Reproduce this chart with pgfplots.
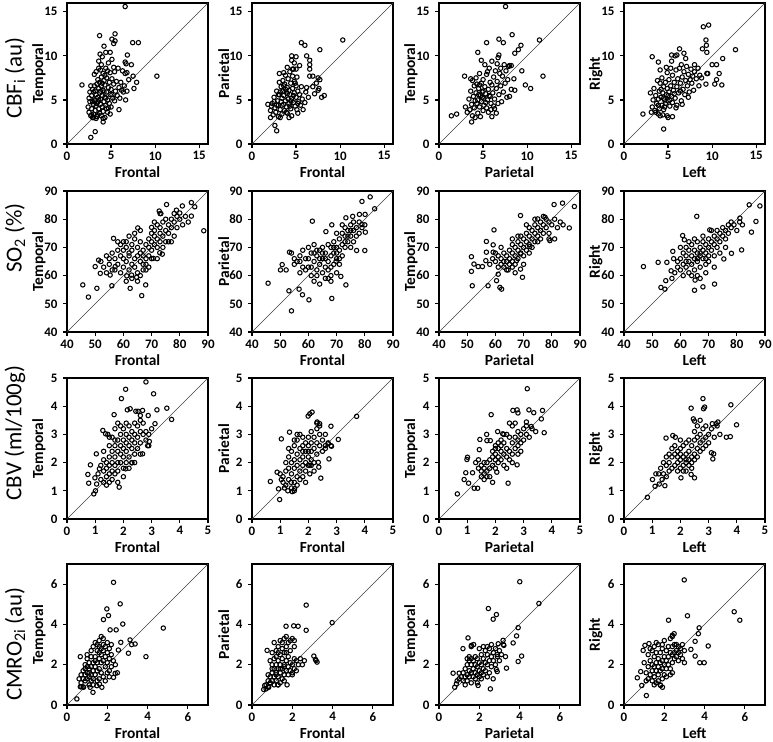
\documentclass[border=0pt]{standalone}
\usepackage{pgfplots}
\pgfplotsset{compat=1.18}
\usepackage{fontspec}
\setmainfont{Carlito}
\pgfplotsset{
 panel/.style={scale only axis, width=141bp, height=141bp, anchor=north west,
  axis line style={line width=1.7bp, black}, tick align=outside, tick pos=left,
  major tick length=4bp, tick style={line width=1.2bp, black},
  ticklabel style={font=\fontsize{13}{13}\selectfont\bfseries},
  label style={font=\fontsize{15.5}{15.5}\selectfont\bfseries},
  /pgf/number format/assume math mode=true,
  yticklabel style={xshift=-2bp},
  ylabel style={at={(axis description cs:-0.2,0.5)}, anchor=center},
  xlabel style={at={(axis description cs:0.5,-0.2)}, anchor=center}},
 pts/.style={only marks, mark=o, mark size=2.2bp, mark options={line width=1.05bp, black}},
 diag/.style={no marks, black!75, line width=0.6bp},
 r1/.style={xmin=0,xmax=16,ymin=0,ymax=16,xtick={0,5,10,15},ytick={0,5,10,15}},
 r2/.style={xmin=40,xmax=90,ymin=40,ymax=90,xtick={40,50,...,90},ytick={40,50,...,90}},
 r3/.style={xmin=0,xmax=5,ymin=0,ymax=5,xtick={0,...,5},ytick={0,...,5}},
 r4/.style={xmin=0,xmax=7,ymin=0,ymax=7,xtick={0,2,4,6},ytick={0,2,4,6}},
}
\begin{document}
\begin{tikzpicture}
\useasboundingbox (0,0) rectangle (773bp,-742bp);
\begin{scope}[font=\fontsize{23}{23}\selectfont]
\node[rotate=90] at (15bp,-78bp) {CBF\textsubscript{i} (au)};
\node[rotate=90] at (15bp,-238bp) {SO\textsubscript{2} (\%)};
\node[rotate=90] at (15bp,-433bp) {CBV (ml/100g)};
\node[rotate=90] at (15bp,-644bp) {CMRO\textsubscript{2i} (au)};
\end{scope}
% ---------------- Row 1: CBF
\begin{axis}[panel, r1, at={(67bp,-3bp)}, xlabel=Frontal, ylabel=Temporal]
\addplot[diag] coordinates {(0,0) (16,16)};
\addplot[pts] coordinates {(6.6,15.6) (3.7,12.3) (5.45,12.5) (5.45,11.7) (5.3,11.4) (5.1,11.9) (7.45,11.5) (8.1,11.5) (10.2,7.7) (6.85,10.1) (4.2,11.1) (4.4,10.4) (3.75,10.2) (4.9,10.4) (7.3,9.0) (6.7,9.1) (6.6,9.3) (7.9,7.0) (7.6,6.3) (7.5,7.7) (1.7,6.7) (3.2,1.4) (2.7,0.75) (6.65,5.0) (5.9,3.9) (4.1,2.5)
(2.4,4.2) (2.5,3.6) (2.6,4.8) (2.7,3.2) (2.8,5.5) (2.8,4.0) (2.9,3.0) (2.9,6.2) (3.0,4.5) (3.0,3.4) (3.1,5.0) (3.1,7.9) (3.2,3.8) (3.2,6.0) (3.3,4.3) (3.3,5.6) (3.3,8.2) (3.4,3.1) (3.4,6.8) (3.5,4.8) (3.5,5.3) (3.5,7.3) (3.6,4.0) (3.6,6.3) (3.6,9.4) (3.7,3.5) (3.7,5.8) (3.7,7.0) (3.8,4.5) (3.8,8.4) (3.8,5.1) (3.9,6.6) (3.9,3.2) (3.9,7.6) (4.0,4.2) (4.0,5.5) (4.0,9.9) (4.1,6.1) (4.1,3.7) (4.1,8.0) (4.2,4.8) (4.2,7.2) (4.3,5.3) (4.3,3.0) (4.3,6.7) (4.4,4.4) (4.4,8.6) (4.5,5.9) (4.5,7.5) (4.6,3.6) (4.6,5.0) (4.7,6.4) (4.7,9.2) (4.8,4.6) (4.8,7.0) (4.9,5.6) (4.9,8.1) (5.0,6.2) (5.0,4.2) (5.1,7.4) (5.1,9.6) (5.2,5.2) (5.3,6.8) (5.3,8.7) (5.4,4.9) (5.5,6.0) (5.6,7.1) (5.7,5.5) (5.8,8.6) (5.9,6.4) (6.0,5.2) (6.1,7.0) (6.2,6.1) (6.3,8.3) (6.4,5.9) (6.5,6.6) (6.6,8.0) (6.8,6.0) (6.8,8.1) (7.0,7.3) (3.0,5.9) (3.4,4.6) (3.6,5.0) (4.0,6.9) (4.2,5.9) (4.5,4.0) (2.6,5.9) (2.9,4.8) (3.2,4.9) (3.5,3.3) (3.8,6.0) (4.4,5.2) (4.7,4.1) (5.1,5.6) (3.1,6.6) (2.7,6.6) (2.5,5.2) (4.9,3.4) (4.1,2.9) (3.3,2.9) (3.0,3.0) (2.8,3.3) (4.6,8.3) (3.9,9.0) (5.4,8.2) (4.3,7.8) (3.6,8.6)};
\end{axis}
\begin{axis}[panel, r1, at={(252bp,-3bp)}, xlabel=Frontal, ylabel=Parietal]
\addplot[diag] coordinates {(0,0) (16,16)};
\addplot[pts] coordinates {(10.3,11.8) (5.6,11.5) (6.0,11.2) (7.7,10.7) (6.2,10.0) (6.55,9.5) (6.55,9.0) (6.55,8.5) (6.55,7.7) (6.9,7.7) (7.5,7.5) (7.7,7.3) (7.3,6.9) (6.9,6.5) (6.2,6.4) (6.1,5.9) (6.4,5.3) (7.1,5.7) (7.5,6.1) (7.9,5.3) (8.2,5.5) (7.6,6.3) (5.2,3.5) (2.6,2.1) (2.8,1.5) (1.8,4.5) (2.1,3.0) (3.1,8.0) (4.5,10.0) (5.0,9.9) (4.8,9.2) (4.5,9.5) (5.4,8.9) (4.7,8.5) (5.0,8.5) (5.1,7.6)
(2.1,3.8) (2.3,4.6) (2.4,3.3) (2.5,5.3) (2.6,4.1) (2.7,3.6) (2.8,6.0) (2.9,4.9) (3.0,3.1) (3.0,4.4) (3.1,5.6) (3.1,7.0) (3.2,3.9) (3.3,6.5) (3.3,4.8) (3.4,5.2) (3.4,3.4) (3.5,7.2) (3.5,6.0) (3.6,4.5) (3.6,5.5) (3.7,3.8) (3.7,6.8) (3.8,4.9) (3.8,7.8) (3.9,5.9) (3.9,4.2) (4.0,6.4) (4.0,3.5) (4.1,5.1) (4.1,7.4) (4.2,4.6) (4.2,6.1) (4.3,5.6) (4.3,8.2) (4.4,4.0) (4.4,6.9) (4.5,5.2) (4.5,3.2) (4.6,6.3) (4.6,7.7) (4.7,4.7) (4.8,5.8) (4.8,7.1) (4.9,4.3) (5.0,6.6) (5.0,5.3) (5.1,3.9) (5.2,6.0) (5.3,4.8) (5.4,5.6) (5.5,4.4) (5.6,6.5) (5.7,5.1) (5.8,3.9) (6.0,4.7) (3.2,5.9) (3.6,6.6) (4.0,5.7) (4.4,4.9) (2.8,4.4) (3.4,4.4) (3.9,3.6) (4.7,5.5) (5.2,4.6) (4.2,3.0) (3.2,3.0) (4.9,6.9) (4.0,8.7) (4.6,8.5) (3.6,8.1) (2.5,4.8) (2.2,4.3) (3.0,5.6) (3.8,6.2) (4.3,4.3)};
\end{axis}
\begin{axis}[panel, r1, at={(439bp,-3bp)}, xlabel=Parietal, ylabel=Temporal]
\addplot[diag] coordinates {(0,0) (16,16)};
\addplot[pts] coordinates {(7.55,15.6) (8.3,12.4) (6.8,11.9) (7.3,11.5) (5.4,11.5) (11.4,11.8) (11.8,7.7) (10.4,6.3) (9.8,6.7) (9.4,8.3) (9.3,11.2) (9.0,10.7) (8.6,10.3) (4.4,10.4) (4.8,9.5) (2.9,7.7) (1.4,3.2) (2.0,3.4) (3.7,2.5) (6.0,3.1) (8.2,6.2) (8.6,6.1) (8.0,5.4) (8.5,7.4) (8.0,8.9) (8.2,8.9)
(3.0,4.2) (3.2,3.6) (3.4,5.1) (3.5,3.9) (3.6,6.0) (3.7,4.5) (3.8,3.2) (3.8,7.2) (3.9,5.4) (4.0,4.1) (4.0,6.6) (4.1,3.0) (4.2,5.8) (4.2,7.5) (4.3,4.6) (4.4,5.0) (4.4,3.5) (4.5,6.3) (4.6,4.2) (4.6,8.0) (4.7,5.5) (4.7,3.1) (4.8,6.9) (4.8,4.8) (4.9,5.9) (5.0,3.8) (5.0,7.3) (5.1,5.2) (5.1,4.4) (5.2,6.5) (5.2,9.0) (5.3,5.7) (5.4,4.1) (5.4,7.9) (5.5,5.0) (5.6,6.2) (5.6,3.6) (5.7,8.6) (5.8,5.4) (5.8,7.0) (5.9,4.6) (6.0,6.7) (6.0,9.4) (6.1,5.8) (6.2,4.3) (6.2,7.6) (6.3,5.1) (6.4,8.3) (6.5,6.3) (6.5,3.5) (6.6,7.1) (6.7,9.8) (6.8,5.6) (6.9,8.0) (7.0,6.6) (7.1,4.8) (7.2,7.7) (7.3,5.9) (7.4,9.0) (7.5,6.9) (7.6,8.3) (7.7,5.3) (7.8,7.3) (7.9,8.8) (4.3,6.8) (4.9,5.3) (5.3,4.7) (5.7,5.5) (4.5,5.6) (6.8,10.1) (6.6,9.1) (5.5,8.2) (5.9,3.9) (3.6,7.4) (4.1,4.9) (6.7,4.6) (5.0,6.0) (4.6,6.7) (7.0,8.6) (6.3,4.0)};
\end{axis}
\begin{axis}[panel, r1, at={(624bp,-3bp)}, xlabel=Left, ylabel=Right]
\addplot[diag] coordinates {(0,0) (16,16)};
\addplot[pts] coordinates {(9.0,13.3) (9.6,13.5) (9.3,11.8) (9.35,11.2) (9.4,10.4) (8.9,10.8) (12.65,10.7) (11.2,9.7) (10.0,9.0) (10.5,9.0) (10.8,8.0) (10.5,7.3) (10.3,6.8) (11.1,6.7) (9.3,6.8) (9.4,8.0) (9.5,8.0) (4.5,1.7) (2.15,3.4) (3.2,9.9) (3.9,9.3) (4.1,8.4) (5.4,10.1) (5.8,10.0) (6.0,10.1) (6.3,10.8) (6.8,10.3) (8.0,9.0) (4.9,3.2) (5.5,3.1) (5.0,3.0) (3.1,3.6) (3.9,3.4) (4.4,3.3)
(3.0,5.8) (3.2,4.2) (3.3,5.0) (3.4,6.3) (3.5,3.8) (3.6,5.5) (3.7,4.6) (3.8,7.2) (3.9,5.1) (4.0,6.0) (4.0,4.0) (4.1,6.9) (4.2,5.3) (4.3,4.4) (4.3,7.5) (4.4,5.8) (4.5,6.5) (4.5,3.9) (4.6,5.0) (4.7,7.0) (4.7,4.6) (4.8,5.6) (4.9,6.3) (4.9,8.1) (5.0,4.9) (5.1,5.9) (5.1,7.3) (5.2,4.3) (5.3,6.6) (5.3,8.6) (5.4,5.4) (5.5,7.8) (5.5,4.7) (5.6,6.1) (5.7,7.0) (5.8,5.2) (5.9,8.4) (6.0,6.5) (6.0,4.4) (6.1,7.4) (6.2,5.8) (6.3,8.6) (6.4,6.9) (6.5,4.9) (6.6,7.6) (6.7,6.2) (6.8,8.2) (6.9,5.6) (7.0,7.2) (7.1,8.8) (7.2,6.6) (7.3,7.9) (7.4,5.9) (7.5,7.3) (7.6,8.5) (7.7,6.9) (7.8,7.7) (7.9,6.1) (8.0,8.2) (8.2,7.4) (8.4,8.6) (8.6,7.8) (8.8,7.5) (5.0,5.5) (4.5,5.2) (5.7,5.7) (6.4,6.0) (4.2,6.2) (3.9,4.4) (5.9,4.1) (6.6,4.5) (7.3,5.3) (5.4,9.4) (4.8,8.7) (3.6,3.6) (4.1,3.2) (7.0,9.7) (6.5,9.0) (8.5,6.6) (5.2,5.0) (4.6,4.2)};
\end{axis}
% ---------------- Row 2: SO2
\begin{axis}[panel, r2, at={(67bp,-191bp)}, xlabel=Frontal, ylabel=Temporal]
\addplot[diag] coordinates {(40,40) (90,90)};
\addplot[pts] coordinates {(45.6,56.7) (47.6,52.4) (50.6,55.5) (56.5,73.2) (55.9,56.4) (62.4,55.5) (66.5,52.9) (67.9,56.7) (75.3,85.2) (80,82.2) (80.9,84.7) (84.1,85.9) (85.3,84.4) (84.1,81.1) (88.5,75.9) (78.8,83.2) (72.7,82.9) (73.3,82) (70,77.1) (65.1,76.9) (50,63.2) (51.2,65.5) (51.8,60.8) (55.3,60.2) (57.1,63.2) (61.2,59.9) (62.9,60.2) (64.7,59.4) (70.6,66.1) (72.9,68.1) (73.8,67.6)
(52,65) (53,63) (54,67) (55,64) (55,66) (56,68) (57,62) (57,66) (58,69) (58,64) (59,67) (59,71) (60,63) (60,66) (60,69) (61,65) (61,70) (61,72) (62,62) (62,67) (62,68) (63,64) (63,69) (63,71) (64,66) (64,73) (64,63) (65,67) (65,70) (65,61) (66,65) (66,68) (66,72) (67,62) (67,67) (67,69) (68,64) (68,71) (68,66) (69,70) (69,73) (69,67) (70,69) (70,75) (70,72) (71,71) (71,76) (71,74) (72,73) (72,78) (72,70) (73,75) (73,77) (73,72) (74,74) (74,79) (75,76) (75,72) (76,78) (76,75) (77,80) (77,77) (78,79) (78,82) (79,77) (79,81) (80,80) (81,78) (82,81) (83,79) (62,74) (64,75) (66,76) (60,72) (58,72) (67,64) (65,58) (63,59) (66,60) (68,62) (74,70) (72,66) (76,72) (78,74) (70,66) (56,62) (54,61) (59,61) (61,58) (69,63) (75,80) (73,82) (71,79) (77,72)};
\end{axis}
\begin{axis}[panel, r2, at={(252bp,-191bp)}, xlabel=Frontal, ylabel=Parietal]
\addplot[diag] coordinates {(40,40) (90,90)};
\addplot[pts] coordinates {(45.7,57.3) (54,47.5) (60.2,51.4) (68.3,51.9) (73.3,56.7) (61.4,79.3) (57.9,53.2) (56.7,55.2) (53.1,54.6) (50.7,63.9) (52.1,62) (50.1,62) (53.3,68.3) (81.9,87.9) (79,86.3) (83.5,83.7) (78.1,81.7) (80.1,81.7) (80.2,75.4) (80,68.9) (77.1,68.9) (79,78.1) (66.2,75.6) (68.3,78) (73.3,80.5) (75.7,81) (69.8,65.1) (71.5,59.7)
(54,68) (55,66) (56,65) (57,67) (57,61) (58,63) (58,69) (59,66) (60,70) (60,63) (61,68) (61,60) (62,65) (62,71) (62,58) (63,67) (63,62) (64,69) (64,64) (64,57) (65,66) (65,61) (65,70) (66,68) (66,63) (66,59) (67,65) (67,71) (67,62) (68,67) (68,60) (68,70) (69,64) (69,68) (69,72) (70,66) (70,61) (70,70) (71,69) (71,73) (71,64) (72,71) (72,67) (72,75) (73,74) (73,70) (73,77) (74,72) (74,76) (75,74) (75,78) (75,70) (76,76) (76,72) (77,77) (77,74) (78,79) (78,75) (79,77) (80,78) (67,59) (68,63) (66,66) (64,66) (63,69) (65,68) (62,68) (69,70) (70,68) (71,66) (74,74) (73,72) (75,76) (76,79) (72,78) (70,75) (60,66) (59,62) (61,63) (63,60) (55,64) (57,65) (68,58)};
\end{axis}
\begin{axis}[panel, r2, at={(439bp,-191bp)}, xlabel=Parietal, ylabel=Temporal]
\addplot[diag] coordinates {(40,40) (90,90)};
\addplot[pts] coordinates {(51.5,66.7) (51.5,61.5) (51.8,56.4) (52.4,64.1) (53.9,63.2) (55.4,63.2) (56.8,72.1) (56.8,68.3) (56.6,65.3) (57.4,56.4) (59.5,76.2) (59.2,70.9) (61,60.5) (60.4,58.2) (61.6,55.8) (62.2,55.2) (59.2,68.3) (68.9,81.3) (69.6,59.4) (68.9,62.3) (80.8,85.2) (83.8,85.7) (88,84.5) (86.2,76.9) (79.3,72.4) (77.6,80.7) (75,80.1) (72.2,70.3) (68.9,67.7) (67.5,65.3) (64.5,62)
(58,64) (59,66) (60,65) (61,63) (61,67) (62,66) (62,64) (63,68) (63,65) (64,67) (64,62) (65,66) (65,69) (66,68) (66,65) (66,71) (67,67) (67,70) (67,64) (68,69) (68,72) (68,66) (69,68) (69,71) (69,74) (70,70) (70,67) (70,73) (71,72) (71,69) (71,75) (72,74) (72,71) (72,77) (73,73) (73,76) (73,70) (74,75) (74,78) (74,72) (75,77) (75,74) (76,79) (76,76) (76,73) (77,78) (77,75) (78,80) (78,77) (79,79) (79,75) (80,78) (81,80) (82,77) (83,79) (84,78) (65,64) (64,65) (63,63) (66,63) (67,61) (70,64) (72,68) (68,74) (66,73) (62,70) (60,68) (74,80) (71,78) (77,81) (75,72) (79,73) (81,73)};
\end{axis}
\begin{axis}[panel, r2, at={(624bp,-191bp)}, xlabel=Left, ylabel=Right]
\addplot[diag] coordinates {(40,40) (90,90)};
\addplot[pts] coordinates {(46.9,63.2) (52.1,64.7) (53.1,55.8) (54.5,55.2) (54.8,58.2) (55.2,64.7) (57.3,68.6) (57.6,66) (56.7,61.7) (65.8,81) (65,54.8) (65.2,58.4) (68,56) (72.1,57) (84.4,85.1) (88.2,84.7) (81.1,80.4) (81.7,69.1) (86.8,79.2) (85.2,75.4) (75.4,65.9) (78.1,67.9) (60.8,74.2) (61.4,72.7) (70.4,76.2)
(57,59) (58,61) (59,63) (59,65) (60,62) (60,66) (61,64) (61,68) (62,63) (62,67) (62,70) (63,65) (63,69) (63,61) (64,67) (64,71) (64,64) (65,66) (65,69) (65,62) (66,68) (66,72) (66,65) (67,67) (67,70) (67,63) (68,69) (68,66) (68,72) (69,68) (69,71) (69,64) (70,70) (70,67) (70,73) (71,69) (71,72) (72,71) (72,74) (72,67) (73,73) (73,76) (73,70) (74,75) (74,72) (75,74) (75,77) (76,76) (76,73) (77,78) (77,75) (78,77) (78,79) (79,78) (80,76) (81,79) (82,78) (66,60) (67,59) (69,61) (64,60) (61,60) (63,72) (60,70) (68,74) (71,76) (74,68) (72,63) (76,70) (70,65) (65,73) (62,65) (66,66) (67,68) (69,66)};
\end{axis}
% ---------------- Row 3: CBV
\begin{axis}[panel, r3, at={(67bp,-378bp)}, xlabel=Frontal, ylabel=Temporal]
\addplot[diag] coordinates {(0,0) (5,5)};
\addplot[pts] coordinates {(2.8,4.86) (2.08,4.6) (1.93,4.27) (3.07,4.44) (3.12,3.38) (3.54,3.93) (3.71,3.53) (3.19,3.87) (2.88,3.67) (2.92,2.75) (2.68,2.31) (2.86,2.6) (2.3,1.99) (2.08,1.78) (1.85,1.13) (1.01,1.0) (0.95,0.89) (0.77,1.27) (0.74,1.58) (0.83,1.92) (0.99,1.46) (1.04,2.31) (1.05,1.24) (1.15,1.78) (1.67,3.7) (1.27,3.14) (1.37,3.02) (1.45,3.0) (2.14,3.87) (2.24,3.91) (2.44,3.82) (2.52,3.82) (2.68,3.85) (2.6,3.67)
(1.1,1.6) (1.2,1.4) (1.2,1.9) (1.3,1.7) (1.3,2.1) (1.3,1.3) (1.4,1.5) (1.4,2.0) (1.4,1.8) (1.5,2.2) (1.5,1.6) (1.5,2.6) (1.5,1.3) (1.6,2.0) (1.6,2.4) (1.6,1.7) (1.6,2.9) (1.7,2.2) (1.7,2.6) (1.7,1.9) (1.7,3.2) (1.8,2.4) (1.8,2.0) (1.8,2.8) (1.8,1.7) (1.8,3.4) (1.9,2.3) (1.9,2.6) (1.9,3.0) (1.9,2.0) (2.0,2.5) (2.0,2.8) (2.0,2.2) (2.0,3.2) (2.0,1.8) (2.1,2.7) (2.1,2.4) (2.1,3.0) (2.1,2.0) (2.2,2.6) (2.2,2.9) (2.2,3.3) (2.2,2.2) (2.3,2.8) (2.3,2.5) (2.3,3.1) (2.4,2.7) (2.4,3.0) (2.4,2.3) (2.5,2.9) (2.5,3.3) (2.5,2.5) (2.6,3.1) (2.6,2.7) (2.7,3.0) (2.7,3.4) (2.8,3.1) (2.8,2.8) (2.9,3.0) (3.0,3.2) (1.4,1.2) (1.6,1.4) (1.8,1.3) (2.2,1.8) (2.4,2.0) (2.6,2.3) (1.3,2.4) (1.5,2.9) (1.7,2.8) (1.9,3.3) (2.1,3.4) (2.0,1.5) (1.7,1.6) (1.5,1.9) (2.3,2.0) (2.9,2.6) (2.6,3.5) (2.4,3.4)};
\end{axis}
\begin{axis}[panel, r3, at={(252bp,-378bp)}, xlabel=Frontal, ylabel=Parietal]
\addplot[diag] coordinates {(0,0) (5,5)};
\addplot[pts] coordinates {(3.71,3.64) (3.06,2.82) (2.8,3.29) (2.7,2.67) (2.82,2.58) (2.73,2.13) (2.05,3.73) (2.13,3.79) (1.99,3.65) (2.4,3.38) (2.31,3.44) (1.33,3.08) (1.04,2.84) (0.65,1.33) (0.89,1.66) (0.94,1.07) (0.98,0.69) (1.04,1.4) (1.15,1.1) (1.27,1.0) (1.43,0.97) (1.51,1.07) (1.39,1.3) (2.44,1.45) (2.05,1.6) (2.35,2.01) (2.37,1.84) (2.05,1.9)
(1.1,1.5) (1.2,1.7) (1.2,2.0) (1.3,1.4) (1.3,1.8) (1.3,2.2) (1.4,1.6) (1.4,2.0) (1.4,2.4) (1.5,1.3) (1.5,1.8) (1.5,2.1) (1.5,2.6) (1.6,1.5) (1.6,1.9) (1.6,2.3) (1.6,2.8) (1.7,1.7) (1.7,2.1) (1.7,2.5) (1.7,3.0) (1.8,1.9) (1.8,2.2) (1.8,2.6) (1.8,2.9) (1.8,1.5) (1.9,2.0) (1.9,2.4) (1.9,2.7) (1.9,1.7) (2.0,2.2) (2.0,2.6) (2.0,2.9) (2.0,1.9) (2.1,2.4) (2.1,2.7) (2.1,3.1) (2.1,2.1) (2.2,2.5) (2.2,2.9) (2.2,2.0) (2.3,2.7) (2.3,3.2) (2.3,2.3) (2.4,2.6) (2.4,3.0) (2.5,2.8) (2.5,2.4) (2.6,2.6) (2.6,3.0) (2.7,2.7) (2.8,2.6) (1.4,1.1) (1.6,1.2) (1.7,1.4) (1.5,1.0) (1.9,1.3) (2.2,1.7) (1.3,2.5) (1.5,2.8) (1.6,3.0) (1.2,1.2) (1.0,1.6) (1.1,1.3) (1.8,2.4) (2.0,2.4) (2.3,3.4) (2.4,3.3) (2.6,2.5) (2.1,1.9)};
\end{axis}
\begin{axis}[panel, r3, at={(439bp,-378bp)}, xlabel=Parietal, ylabel=Temporal]
\addplot[diag] coordinates {(0,0) (5,5)};
\addplot[pts] coordinates {(3.13,4.62) (1.85,3.7) (2.62,3.85) (2.77,3.87) (2.8,3.76) (3.19,3.87) (3.36,3.77) (3.67,3.85) (3.63,3.55) (3.73,3.06) (3.43,3.1) (3.27,3.28) (3.1,3.44) (0.65,0.89) (1.01,2.19) (0.99,2.11) (0.95,1.64) (0.89,1.4) (1.05,1.27) (1.25,1.09) (1.37,1.09) (1.19,1.64) (1.43,2.46) (1.45,2.82) (1.69,3.0) (1.82,2.78) (1.7,2.78) (1.9,1.3) (2.05,1.66) (2.45,1.27) (2.77,1.92) (2.08,3.1) (2.26,3.02)
(1.3,2.0) (1.4,1.8) (1.4,2.1) (1.5,1.5) (1.5,1.9) (1.6,1.6) (1.6,1.4) (1.6,2.0) (1.7,1.7) (1.7,1.5) (1.7,2.0) (1.8,1.8) (1.8,2.1) (1.9,2.2) (1.9,1.9) (2.0,2.3) (2.0,2.1) (2.0,2.5) (2.1,2.2) (2.1,2.0) (2.1,2.7) (2.2,2.4) (2.2,2.1) (2.2,2.6) (2.3,2.3) (2.3,1.9) (2.3,2.7) (2.4,2.2) (2.4,2.5) (2.4,1.8) (2.5,2.4) (2.5,2.9) (2.5,2.1) (2.6,2.7) (2.6,3.3) (2.6,2.3) (2.7,2.9) (2.7,2.5) (2.7,3.4) (2.8,2.8) (2.8,2.3) (2.8,3.1) (2.9,3.0) (2.9,2.7) (3.0,3.2) (3.0,2.8) (3.1,3.0) (3.1,3.3) (3.2,2.9) (3.3,3.2) (1.9,2.4) (2.0,1.8) (2.2,2.8) (2.4,3.0) (2.6,2.0) (2.9,2.4) (1.5,1.7) (1.8,1.5) (2.5,3.4) (2.3,3.0) (2.1,2.5) (1.6,1.8) (2.0,2.6) (2.8,2.6)};
\end{axis}
\begin{axis}[panel, r3, at={(624bp,-378bp)}, xlabel=Left, ylabel=Right]
\addplot[diag] coordinates {(0,0) (5,5)};
\addplot[pts] coordinates {(0.83,0.77) (1.01,1.4) (1.1,1.16) (1.25,1.24) (1.35,1.4) (1.45,1.18) (1.23,1.6) (1.13,1.6) (1.49,2.87) (1.82,2.9) (1.73,2.96) (2.38,3.93) (2.8,4.27) (2.86,3.97) (2.82,3.91) (2.5,3.47) (2.46,3.55) (3.79,4.05) (3.99,3.34) (3.63,2.9) (3.77,2.92) (3.33,3.44) (3.13,3.38) (3.27,3.38) (3.1,2.35) (3.15,2.13) (3.18,2.31) (2.38,1.58) (2.5,1.46) (2.02,1.46)
(1.3,1.8) (1.4,1.6) (1.4,2.0) (1.5,1.9) (1.5,2.2) (1.6,1.7) (1.6,2.0) (1.7,1.8) (1.7,2.2) (1.7,2.5) (1.8,1.9) (1.8,2.3) (1.8,2.6) (1.9,2.0) (1.9,2.4) (1.9,1.7) (2.0,2.1) (2.0,2.5) (2.0,1.8) (2.1,2.2) (2.1,2.6) (2.1,1.9) (2.2,2.0) (2.2,2.3) (2.2,2.7) (2.2,1.7) (2.3,2.1) (2.3,2.4) (2.3,1.9) (2.4,2.2) (2.4,2.6) (2.4,2.0) (2.5,2.3) (2.5,2.8) (2.5,2.1) (2.6,2.5) (2.6,2.9) (2.6,3.3) (2.7,2.7) (2.7,3.0) (2.7,2.4) (2.8,2.8) (2.8,3.2) (2.8,2.5) (2.9,2.9) (2.9,3.3) (3.0,3.0) (3.0,2.7) (3.1,3.2) (3.2,2.9) (3.3,3.3) (2.0,2.8) (2.3,2.8) (2.5,3.1) (2.6,2.2) (2.9,2.6) (1.6,2.3) (1.5,1.5) (2.1,1.7) (2.4,1.8) (3.4,3.0) (2.7,3.5) (1.9,2.2) (2.2,2.1) (2.0,2.3)};
\end{axis}
% ---------------- Row 4: CMRO2
\begin{axis}[panel, r4, at={(67bp,-564bp)}, xlabel=Frontal, ylabel=Temporal]
\addplot[diag] coordinates {(0,0) (7,7)};
\addplot[pts] coordinates {(2.31,6.09) (2.64,5.02) (1.98,4.77) (2.06,4.44) (1.81,4.24) (2.77,4.02) (2.14,3.73) (2.44,3.73) (4.78,3.82) (3.92,2.4) (3.05,2.57) (3.13,3.23) (3.21,3.0) (3.38,3.03) (2.67,3.11) (2.55,2.73) (2.39,1.57) (2.31,1.37) (0.49,0.3) (0.66,2.4) (0.66,0.91) (0.82,0.88) (1.15,0.88) (1.29,0.63) (1.48,0.96) (1.61,1.04) (1.73,0.88)
(0.6,1.3) (0.7,1.5) (0.7,1.1) (0.8,1.7) (0.8,1.3) (0.8,0.9) (0.9,1.5) (0.9,2.0) (0.9,1.2) (1.0,1.6) (1.0,1.9) (1.0,1.3) (1.0,2.3) (1.1,1.4) (1.1,1.8) (1.1,2.1) (1.1,1.0) (1.2,1.5) (1.2,1.9) (1.2,2.4) (1.3,1.7) (1.3,2.1) (1.3,1.3) (1.3,2.9) (1.4,1.9) (1.4,2.4) (1.4,1.5) (1.4,3.1) (1.5,2.1) (1.5,2.7) (1.5,1.7) (1.5,3.0) (1.6,2.3) (1.6,2.9) (1.6,1.8) (1.6,3.2) (1.7,2.5) (1.7,2.1) (1.7,3.4) (1.7,1.6) (1.8,2.7) (1.8,2.2) (1.8,3.0) (1.8,1.4) (1.9,2.4) (1.9,2.9) (1.9,1.9) (2.0,2.6) (2.0,3.1) (2.0,2.1) (2.0,1.6) (2.1,2.8) (2.1,2.3) (2.1,1.4) (2.2,2.5) (2.2,1.9) (2.3,2.2) (2.4,2.0) (2.5,1.6) (1.2,2.7) (1.0,2.5) (0.9,1.8) (1.3,1.0) (1.6,1.3) (1.9,1.2) (1.5,1.2) (1.7,2.8) (1.8,3.3) (1.6,2.6) (1.4,2.2) (1.2,1.2) (0.7,0.9) (1.1,1.6) (2.2,3.0) (2.1,1.7)};
\end{axis}
\begin{axis}[panel, r4, at={(252bp,-564bp)}, xlabel=Frontal, ylabel=Parietal]
\addplot[diag] coordinates {(0,0) (7,7)};
\addplot[pts] coordinates {(2.69,4.96) (3.98,4.09) (2.29,3.91) (2.07,3.93) (1.69,3.91) (2.69,3.71) (3.07,2.43) (3.15,2.26) (3.23,2.13) (3.18,2.21) (0.75,2.71) (1.29,1.0) (1.74,1.0) (0.58,0.77) (0.63,0.97) (0.83,0.88) (0.70,0.8) (0.91,1.1)
(0.7,1.0) (0.8,1.2) (0.8,0.9) (0.9,1.4) (0.9,1.1) (0.9,2.2) (1.0,1.6) (1.0,1.2) (1.0,2.0) (1.0,2.6) (1.1,1.4) (1.1,1.8) (1.1,2.3) (1.1,1.0) (1.1,3.1) (1.2,1.6) (1.2,2.0) (1.2,2.7) (1.2,1.2) (1.3,1.8) (1.3,2.2) (1.3,1.4) (1.3,2.9) (1.3,1.0) (1.4,2.0) (1.4,2.5) (1.4,1.6) (1.4,3.2) (1.5,1.8) (1.5,2.3) (1.5,2.8) (1.5,1.3) (1.6,2.0) (1.6,2.6) (1.6,1.5) (1.6,3.3) (1.7,2.2) (1.7,1.7) (1.7,2.9) (1.8,1.9) (1.8,2.4) (1.8,1.5) (1.8,3.1) (1.9,2.1) (1.9,1.7) (1.9,2.7) (2.0,2.0) (2.0,1.6) (2.0,3.3) (2.1,2.3) (2.1,1.8) (2.1,2.9) (2.2,2.2) (2.2,1.7) (2.3,2.0) (2.4,2.3) (2.5,2.0) (2.6,2.2) (2.0,1.5) (1.2,2.4) (1.4,1.1) (1.6,1.2) (1.5,3.1) (1.7,3.4) (1.9,3.2) (2.1,3.2) (1.3,2.6) (1.0,1.8) (0.8,1.5) (1.6,1.9) (1.4,1.8) (1.2,1.5) (1.7,2.6)};
\end{axis}
\begin{axis}[panel, r4, at={(439bp,-564bp)}, xlabel=Parietal, ylabel=Temporal]
\addplot[diag] coordinates {(0,0) (7,7)};
\addplot[pts] coordinates {(4.01,6.12) (4.96,5.04) (2.45,4.79) (2.69,4.26) (2.85,4.49) (3.93,3.84) (3.85,3.43) (3.68,3.08) (3.93,2.16) (4.1,2.43) (2.55,0.8) (1.94,0.97) (0.86,1.05) (0.78,0.88) (0.7,1.58) (1.0,1.58) (1.19,2.8) (1.44,3.33) (1.61,2.96) (1.72,3.0) (2.85,1.76) (2.89,1.66) (3.35,1.83) (3.18,3.21) (3.22,2.96) (2.94,3.04) (2.89,2.5) (2.69,1.3)
(1.1,1.4) (1.2,1.6) (1.2,1.2) (1.3,1.8) (1.3,1.4) (1.4,1.5) (1.4,2.0) (1.4,1.2) (1.5,1.7) (1.5,2.2) (1.5,1.4) (1.6,1.6) (1.6,2.0) (1.6,2.3) (1.6,1.1) (1.7,1.8) (1.7,1.4) (1.7,2.2) (1.8,1.6) (1.8,2.0) (1.8,1.3) (1.9,1.9) (1.9,2.3) (1.9,1.5) (2.0,1.7) (2.0,2.1) (2.0,1.4) (2.1,2.0) (2.1,1.6) (2.1,2.5) (2.2,1.8) (2.2,2.3) (2.2,1.5) (2.3,2.1) (2.3,2.7) (2.3,1.7) (2.4,2.5) (2.4,2.0) (2.4,2.9) (2.5,2.2) (2.5,2.8) (2.5,1.6) (2.6,2.4) (2.6,3.0) (2.6,1.9) (2.7,2.6) (2.7,2.2) (2.8,2.8) (2.8,2.0) (2.9,2.4) (3.0,2.7) (3.0,2.2) (3.1,2.5) (3.2,3.0) (3.3,2.4) (1.4,2.3) (1.5,2.4) (1.6,2.9) (1.8,2.4) (2.0,2.8) (2.2,2.9) (2.4,1.4) (2.1,1.3) (1.9,1.1) (1.3,1.0) (1.0,1.3) (0.9,1.2)};
\end{axis}
\begin{axis}[panel, r4, at={(624bp,-564bp)}, xlabel=Left, ylabel=Right]
\addplot[diag] coordinates {(0,0) (7,7)};
\addplot[pts] coordinates {(2.99,6.21) (3.15,4.43) (2.21,4.21) (5.47,4.63) (5.75,4.21) (3.73,3.83) (3.69,3.54) (3.53,3.16) (4.18,2.93) (3.32,2.76) (3.53,2.43) (3.76,2.1) (3.98,2.1) (1.11,0.47) (0.66,1.35) (0.83,1.66) (0.88,0.97) (0.95,2.71) (1.04,2.96) (1.24,3.05) (1.82,0.97) (1.91,0.88) (2.4,3.46) (2.49,3.54)
(1.1,1.6) (1.2,1.9) (1.2,1.3) (1.3,2.2) (1.3,1.5) (1.3,2.8) (1.4,1.7) (1.4,2.0) (1.4,1.2) (1.5,1.9) (1.5,2.4) (1.5,1.4) (1.5,2.9) (1.6,1.7) (1.6,2.1) (1.6,2.6) (1.6,1.1) (1.7,1.9) (1.7,2.3) (1.7,1.5) (1.7,3.0) (1.8,2.1) (1.8,1.7) (1.8,2.6) (1.8,1.0) (1.9,2.2) (1.9,1.8) (1.9,2.8) (2.0,2.0) (2.0,2.4) (2.0,1.5) (2.1,2.2) (2.1,2.7) (2.1,1.8) (2.2,2.4) (2.2,2.0) (2.2,2.9) (2.3,2.6) (2.3,1.8) (2.4,2.5) (2.4,2.9) (2.4,2.1) (2.5,2.6) (2.5,3.0) (2.5,2.3) (2.6,2.7) (2.6,2.4) (2.6,3.0) (2.7,2.6) (2.7,2.9) (2.7,2.2) (2.8,2.8) (2.8,2.5) (2.9,3.0) (2.9,2.3) (3.0,2.7) (3.0,2.1) (2.4,1.6) (2.3,1.5) (1.1,1.2) (1.0,2.1) (1.2,2.5) (1.4,2.7) (1.6,3.1) (1.9,3.0) (2.0,3.2) (2.3,3.3) (2.4,3.4) (1.5,1.0) (1.7,1.2) (1.9,1.3) (2.1,1.4)};
\end{axis}
\end{tikzpicture}
\end{document}
